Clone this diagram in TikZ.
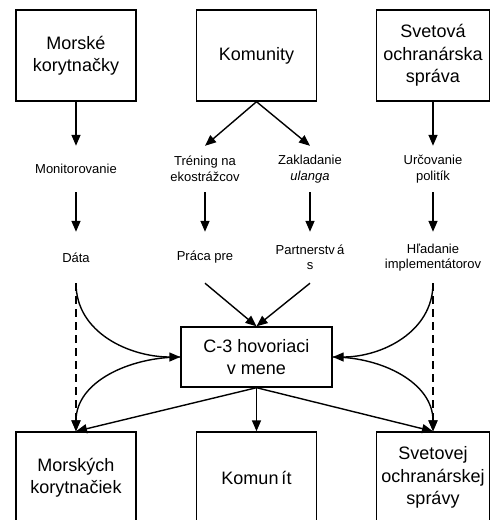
\documentclass[tikz,border=0pt]{standalone}
\usepackage{fontspec}
\setmainfont{Liberation Sans}
\usepackage{tikz}
\usetikzlibrary{arrows.meta}

\begin{document}
\begin{tikzpicture}[x=1pt,y=1pt,
  box/.style={draw,line width=1.4pt,minimum width=120pt,minimum height=91pt,
    inner sep=0pt,align=center,font=\fontsize{18}{22.5}\selectfont},
  phase/.style={inner sep=0pt,minimum height=46pt,align=center,
    font=\fontsize{13}{15.5}\selectfont},
  arr/.style={-{Triangle[length=11pt,width=9pt]},line width=1.4pt}]
\useasboundingbox (0,0) rectangle (490,-520);
\clip (0,0) rectangle (490,-520);

% top row
\node[box] (turtles) at (76,-55.5) {Morské\\korytnačky};
\node[box] (comm) at (256.5,-55.5) {Komunity};
\node[box,minimum width=113pt] (cons) at (433,-55.5) {Svetová\\ochranárska\\správa};

\node[phase] (monit) at (76,-169) {Monitorovanie};
\node[phase] (train) at (205,-169) {Tréning na\\ekostrážcov};
\node[phase] (ulanga) at (310,-169) {Zakladanie\\\textit{ulanga}};
\node[phase] (policy) at (433,-169) {Určovanie\\politík};
\draw[arr] (turtles.south) -- (monit.north);
\draw[arr] (comm.south) -- (train.north);
\draw[arr] (comm.south) -- (ulanga.north);
\draw[arr] (cons.south) -- (policy.north);

\node[phase,minimum height=51pt] (data) at (76,-257.5) {Dáta};
\node[phase,minimum height=51pt] (work) at (205,-257.5) {Práca pre};
\node[phase,minimum height=51pt] (partner) at (310,-257.5) {Partnerstv\,á\\s};
\node[phase,minimum height=51pt] (impl) at (433,-257.5) {Hľadanie\\implementátorov};
\draw[arr] (monit.south) -- (data.north);
\draw[arr] (train.south) -- (work.north);
\draw[arr] (ulanga.south) -- (partner.north);
\draw[arr] (policy.south) -- (impl.north);

% C-3
\node[box,minimum width=151pt,minimum height=60pt] (c3) at (256.5,-357) {C-3 hovoriaci\\v mene};
\draw[arr] (work.south) -- (c3.north);
\draw[arr] (partner.south) -- (c3.north);
\draw[arr] (data.south) to[out=-90,in=180] (c3.west);
\draw[arr] (impl.south) to[out=-90,in=0] (c3.east);

% bottom row
\node[box] (turtles2) at (76,-477.5) {Morských\\korytnačiek};
\node[box] (comm2) at (256.5,-477.5) {Komun\,ít};
\node[box,minimum width=113pt] (cons2) at (433,-477.5) {Svetovej\\ochranárskej\\správy};
\draw[arr,dash pattern=on 8pt off 5pt] (data.south) -- (turtles2.north);
\draw[arr,dash pattern=on 8pt off 5pt] (impl.south) -- (cons2.north);
\draw[arr] (c3.west) to[out=180,in=90] (turtles2.north);
\draw[arr] (c3.east) to[out=0,in=90] (cons2.north);
\draw[arr] (c3.south) -- (turtles2.north);
\draw[arr] (c3.south) -- (comm2.north);
\draw[arr] (c3.south) -- (cons2.north);
\end{tikzpicture}
\end{document}
